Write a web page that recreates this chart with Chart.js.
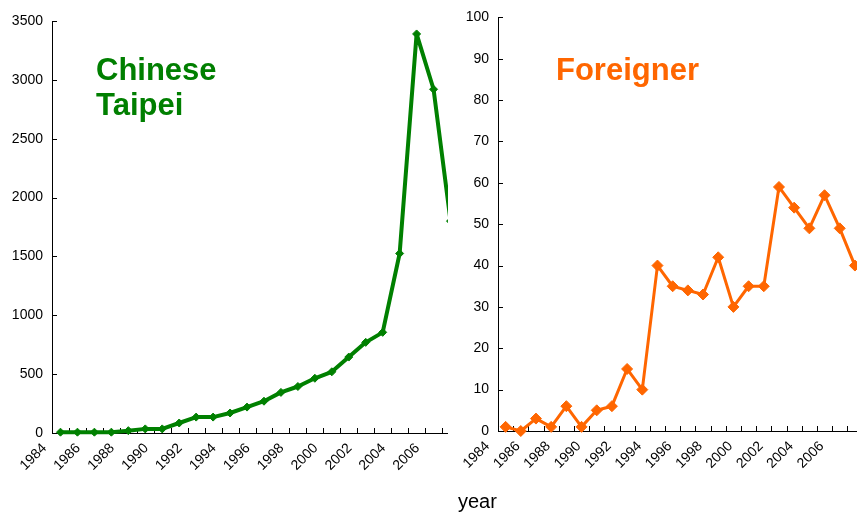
<!DOCTYPE html>
<html>
<head>
<meta charset="utf-8">
<script src="https://cdn.jsdelivr.net/npm/chart.js@4"></script>
<style>
  body { margin: 0; background: #fff; }
  #page { position: relative; width: 857px; height: 515px; overflow: hidden; font-family: "Liberation Sans", Arial, sans-serif; }
  .box { position: absolute; top: 0; height: 515px; overflow: hidden; }
  .lbl { position: absolute; font-weight: bold; font-size: 31px; line-height: 35px; }
</style>
</head>
<body>
<div id="page">
  <div class="box" style="left:0; width:448px;"><canvas id="taipei" width="470" height="515"></canvas></div>
  <div class="box" style="left:448px; width:409px;"><canvas id="foreign" width="426" height="515"></canvas></div>
  <div class="lbl" style="left:96px; top:52px; color:#007f00;">Chinese<br>Taipei</div>
  <div class="lbl" style="left:556px; top:52px; color:#ff6600;">Foreigner</div>
  <div style="position:absolute; left:458px; top:491px; font-size:20px; line-height:20px;">year</div>
</div>
<script>
const years = ["1984", "1985", "1986", "1987", "1988", "1989", "1990", "1991",
  "1992", "1993", "1994", "1995", "1996", "1997", "1998", "1999",
  "2000", "2001", "2002", "2003", "2004", "2005", "2006", "2007"];
const taipeiValues = [7, 7, 7, 7, 20, 35, 35, 85, 135, 135, 170, 220,
  270, 345, 395, 465, 520, 645, 770, 855, 1525, 3390, 2920, 1800];
const foreignValues = [1, 0, 3, 1, 6, 1, 5, 6, 15, 10, 40, 35,
  34, 33, 42, 30, 35, 35, 59, 54, 49, 57, 49, 40];

// tick marks pointing into the plot, like the original
const innerTicks = {
  id: "innerTicks",
  beforeDatasetsDraw(chart) {
    const ctx = chart.ctx;
    const x = chart.scales.x;
    const y = chart.scales.y;
    const step = x.getPixelForValue(1) - x.getPixelForValue(0);
    ctx.save();
    ctx.strokeStyle = "#000";
    ctx.lineWidth = 1;
    ctx.beginPath();
    for (let i = 0; i <= years.length; i++) {
      const px = Math.round(x.getPixelForValue(i) - step / 2) + 0.5;
      ctx.moveTo(px, y.bottom);
      ctx.lineTo(px, y.bottom - 5);
    }
    y.ticks.forEach((t) => {
      const py = Math.round(y.getPixelForValue(t.value)) + 0.5;
      ctx.moveTo(x.left, py);
      ctx.lineTo(x.left + 5, py);
    });
    ctx.stroke();
    ctx.restore();
  },
};

function makeChart(id, values, color, lineW, dot, yMax, yStep, yW, xH, pad, shift) {
  return new Chart(document.getElementById(id).getContext("2d"), {
    type: "line",
    data: {
      labels: years,
      datasets: [
        {
          data: values,
          borderColor: color,
          backgroundColor: color,
          borderWidth: lineW,
          borderJoinStyle: "round",
          pointStyle: "rectRot",
          pointRadius: dot,
          pointBorderWidth: 1,
          tension: 0,
          clip: false,
        },
      ],
    },
    options: {
      responsive: false,
      animation: false,
      layout: { padding: pad },
      plugins: { legend: { display: false }, tooltip: { enabled: false } },
      scales: {
        x: {
          offset: true,
          grid: { display: false, drawTicks: false, offset: true },
          border: { display: true, color: "#000", width: 1 },
          ticks: {
            autoSkip: false,
            minRotation: 45,
            maxRotation: 45,
            padding: 7,
            labelOffset: shift,
            color: "#000",
            font: { family: "Liberation Sans", size: 14 },
            callback: (v, i) => (i % 2 === 0 ? years[i] : ""),
          },
          afterFit: (s) => { s.height = xH; },
        },
        y: {
          min: 0,
          max: yMax,
          grid: { display: false, drawTicks: false },
          border: { display: true, color: "#000", width: 1 },
          ticks: {
            stepSize: yStep,
            padding: 9,
            color: "#000",
            font: { family: "Liberation Sans", size: 14 },
            callback: (v) => String(v),
          },
          afterFit: (s) => { s.width = yW; },
        },
      },
    },
    plugins: [innerTicks],
  });
}

makeChart("taipei", taipeiValues, "#008000", 4, 4, 3500, 500, 52,
  82, { top: 21, right: 11, left: 0, bottom: 0 }, -16);
makeChart("foreign", foreignValues, "#ff6600", 3, 5.5, 100, 10, 50,
  84, { top: 17, right: 10, left: 0, bottom: 0 }, -18);
</script>
</body>
</html>
